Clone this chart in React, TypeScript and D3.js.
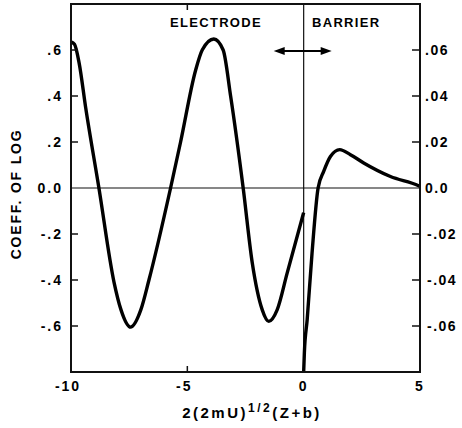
import React from 'react';
import * as d3 from 'd3';

// electrode side, read on the left axis
const electrodeX = [-10, -9.85, -9.65, -9.37, -8.8, -8.15, -7.85, -7.44, -7.0, -6.65, -5.72, -5.29, -4.65, -4.36, -3.86, -3.46, -3.14, -2.6, -2.21, -1.78, -1.5, -1.14, -0.71, 0];
const electrodeY = [0.635, 0.625, 0.543, 0.35, 0, -0.41, -0.53, -0.605, -0.53, -0.4, 0, 0.2, 0.51, 0.6, 0.648, 0.6, 0.4, 0, -0.325, -0.53, -0.58, -0.53, -0.37, -0.107];

// barrier side, read on the right axis
const barrierX = [0, 0.03, 0.15, 0.36, 0.62, 0.86, 1.15, 1.55, 2.01, 2.58, 3.73, 4.94, 5];
const barrierY = [-0.08, -0.0717, -0.0573, -0.0283, 0, 0.0072, 0.0137, 0.0167, 0.0145, 0.0109, 0.005, 0.001, 0.0007];

const leftTicks = [0.6, 0.4, 0.2, 0, -0.2, -0.4, -0.6];
const leftLabels = ['.6', '.4', '.2', '0.0', '-.2', '-.4', '-.6'];
const rightTicks = [0.06, 0.04, 0.02, 0, -0.02, -0.04, -0.06];
const rightLabels = ['.06', '.04', '.02', '0.0', '-.02', '-.04', '-.06'];
const xTicks = [-10, -5, 0, 5];
const xLabels = ['-10', '-5', '0', '5'];

const W = 462;
const H = 428;
const m = { left: 71, right: 420, top: 4, bottom: 372 };
const font = 'Liberation Sans, Arial, sans-serif';

export default function App() {
  const x = d3.scaleLinear().domain([-10, 5]).range([m.left, m.right]);
  const y = d3.scaleLinear().domain([-0.8, 0.8]).range([m.bottom, m.top]);
  const yR = d3.scaleLinear().domain([-0.08, 0.08]).range([m.bottom, m.top]);

  const lineL = d3
    .line<number>()
    .x((d, i) => x(electrodeX[i]))
    .y(d => y(d))
    .curve(d3.curveMonotoneX);
  const lineR = d3
    .line<number>()
    .x((d, i) => x(barrierX[i]))
    .y(d => yR(d))
    .curve(d3.curveMonotoneX);

  const arrowY = 51;
  const ax0 = x(0) - 30;
  const ax1 = x(0) + 28;

  return (
    <svg width={W} height={H} style={{ position: 'absolute', left: 0, top: 0, background: '#fff' }}>
      <rect x={0} y={0} width={W} height={H} fill="#fff" />
      <defs>
        <clipPath id="plot">
          <rect x={m.left} y={m.top} width={m.right - m.left} height={m.bottom - m.top} />
        </clipPath>
      </defs>
      {/* zero lines */}
      <line x1={m.left} x2={m.right} y1={y(0)} y2={y(0)} stroke="#111" strokeWidth={1.2} />
      <line x1={x(0)} x2={x(0)} y1={m.top} y2={m.bottom} stroke="#111" strokeWidth={1.2} />

      {/* curves */}
      <g clipPath="url(#plot)" fill="none" stroke="#000" strokeWidth={3.4} strokeLinejoin="round">
        <path d={lineL(electrodeY) || ''} />
        <path d={lineR(barrierY) || ''} />
      </g>

      {/* frame */}
      <rect x={m.left} y={m.top} width={m.right - m.left} height={m.bottom - m.top} fill="none" stroke="#111" strokeWidth={2} />

      {/* left ticks */}
      {leftTicks.map((t, i) => (
        <g key={'l' + i}>
          {t !== 0 && <line x1={m.left} x2={m.left + 7} y1={y(t)} y2={y(t)} stroke="#111" strokeWidth={1.5} />}
          <text x={m.left - 8} y={y(t) + 5} textAnchor="end" fontFamily={font} fontWeight="bold" fontSize={14} letterSpacing={2}>
            {leftLabels[i]}
          </text>
        </g>
      ))}
      {/* right ticks */}
      {rightTicks.map((t, i) => (
        <g key={'r' + i}>
          {t !== 0 && <line x1={m.right - 8} x2={m.right} y1={yR(t)} y2={yR(t)} stroke="#111" strokeWidth={1.5} />}
          <text x={t < 0 ? m.right + 7 : m.right + 5} y={yR(t) + 5} textAnchor="start" fontFamily={font} fontWeight="bold" fontSize={14} letterSpacing={1.5}>
            {rightLabels[i]}
          </text>
        </g>
      ))}
      {/* x ticks */}
      {xTicks.map((t, i) => (
        <g key={'x' + i}>
          {t === -5 && (
            <>
              <line x1={x(t)} x2={x(t)} y1={m.bottom} y2={m.bottom - 6} stroke="#111" strokeWidth={1.5} />
              <line x1={x(t)} x2={x(t)} y1={m.top} y2={m.top + 6} stroke="#111" strokeWidth={1.5} />
            </>
          )}
          <text x={x(t) - (t < 0 ? 3 : 0)} y={391} textAnchor="middle" fontFamily={font} fontWeight="bold" fontSize={14} letterSpacing={2}>
            {xLabels[i]}
          </text>
        </g>
      ))}

      {/* axis titles */}
      <text x={252} y={418} textAnchor="middle" fontFamily={font} fontWeight="bold" fontSize={15} letterSpacing={2.5}>
        2(2mU)
        <tspan dy={-6} fontSize={12}>1/2</tspan>
        <tspan dy={6}>(Z+b)</tspan>
      </text>
      <text
        transform={`translate(21,${194}) rotate(-90)`}
        textAnchor="middle"
        fontFamily={font}
        fontWeight="bold"
        fontSize={14}
        letterSpacing={1.8}
      >
        COEFF. OF LOG
      </text>

      {/* region labels */}
      <text x={216} y={27} textAnchor="middle" fontFamily={font} fontWeight="bold" fontSize={13} letterSpacing={1.3}>
        ELECTRODE
      </text>
      <text x={312} y={27} textAnchor="start" fontFamily={font} fontWeight="bold" fontSize={13} letterSpacing={1.3}>
        BARRIER
      </text>

      {/* double arrow */}
      <line x1={ax0 + 8} x2={ax1 - 8} y1={arrowY} y2={arrowY} stroke="#000" strokeWidth={2} />
      <path d={`M${ax0},${arrowY} L${ax0 + 11},${arrowY - 4} L${ax0 + 11},${arrowY + 4} Z`} fill="#000" />
      <path d={`M${ax1},${arrowY} L${ax1 - 11},${arrowY - 4} L${ax1 - 11},${arrowY + 4} Z`} fill="#000" />
    </svg>
  );
}
